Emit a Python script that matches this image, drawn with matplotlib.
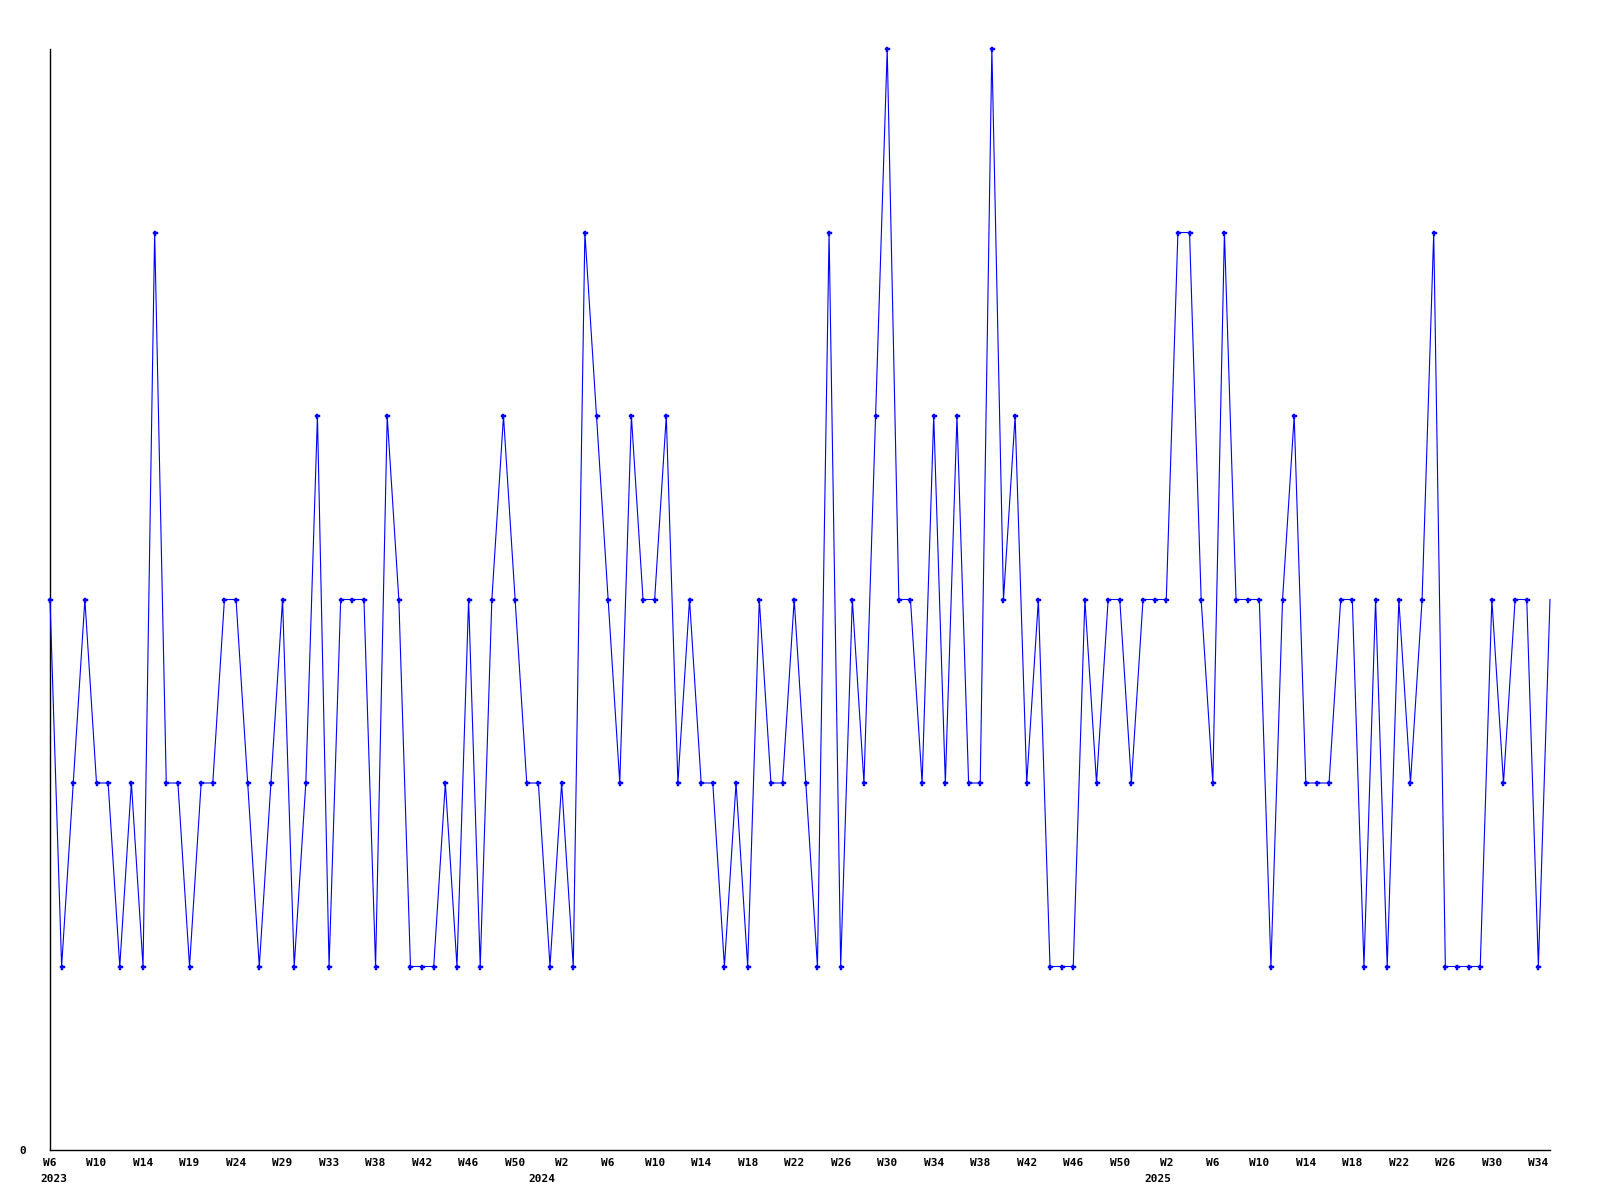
import matplotlib
matplotlib.use("Agg")
import matplotlib.pyplot as plt
from matplotlib.transforms import blended_transform_factory

# weekly values (one per data point, in order)
values = [
    3, 1, 2, 3, 2, 2, 1, 2, 1, 5,
    2, 2, 1, 2, 2, 3, 3, 2, 1, 2,
    3, 1, 2, 4, 1, 3, 3, 3, 1, 4,
    3, 1, 1, 1, 2, 1, 3, 1, 3, 4,
    3, 2, 2, 1, 2, 1, 5, 4, 3, 2,
    4, 3, 3, 4, 2, 3, 2, 2, 1, 2,
    1, 3, 2, 2, 3, 2, 1, 5, 1, 3,
    2, 4, 6, 3, 3, 2, 4, 2, 4, 2,
    2, 6, 3, 4, 2, 3, 1, 1, 1, 3,
    2, 3, 3, 2, 3, 3, 3, 5, 5, 3,
    2, 5, 3, 3, 3, 1, 3, 4, 2, 2,
    2, 3, 3, 1, 3, 1, 3, 2, 3, 5,
    1, 1, 1, 1, 3, 2, 3, 3, 1, 3,
]

# tick labels, one every 4 data points
tick_labels = [
    "W6", "W10", "W14", "W19", "W24", "W29", "W33", "W38", "W42", "W46", "W50",
    "W2", "W6", "W10", "W14", "W18", "W22", "W26", "W30", "W34", "W38", "W42", "W46", "W50",
    "W2", "W6", "W10", "W14", "W18", "W22", "W26", "W30", "W34",
]
tick_step = 4

# year labels and their (approximate) data-point positions
years = ["2023", "2024", "2025"]
year_pos = [0.3, 42.3, 95.3]

x = list(range(len(values)))

fig = plt.figure(figsize=(16, 12), dpi=100)
ax = fig.add_axes([50 / 1600, 1 - 1150 / 1200, 1500 / 1600, (1150 - 49) / 1200])

ax.plot(x, values, color="#0000ff", linewidth=0.8, clip_on=False, zorder=3)
ax.plot(x[:-1], values[:-1], linestyle="none", marker="P", markersize=3.6,
        markerfacecolor="#0000ff", markeredgecolor="#0000ff", markeredgewidth=0.3,
        clip_on=False, zorder=4)

ax.set_xlim(0, len(values) - 1)
ax.set_ylim(0, 6)

for s in ["top", "right"]:
    ax.spines[s].set_visible(False)
for s in ["left", "bottom"]:
    ax.spines[s].set_color("black")
    ax.spines[s].set_linewidth(1.0)

font = dict(family="DejaVu Sans Mono", weight="bold", size=8)

ax.set_xticks([i * tick_step for i in range(len(tick_labels))])
ax.set_xticklabels(tick_labels, **font)
ax.set_yticks([0])
ax.set_yticklabels(["0"], **font)
ax.tick_params(axis="x", length=0, pad=6)
ax.tick_params(axis="y", length=0, pad=17)

trans = blended_transform_factory(ax.transData, ax.transAxes)
for lab, p in zip(years, year_pos):
    ax.annotate(lab, xy=(p, 0), xycoords=trans, xytext=(0, -29),
                textcoords="offset pixels", ha="center", va="center", **font)

fig.savefig("out.png", dpi=100)
